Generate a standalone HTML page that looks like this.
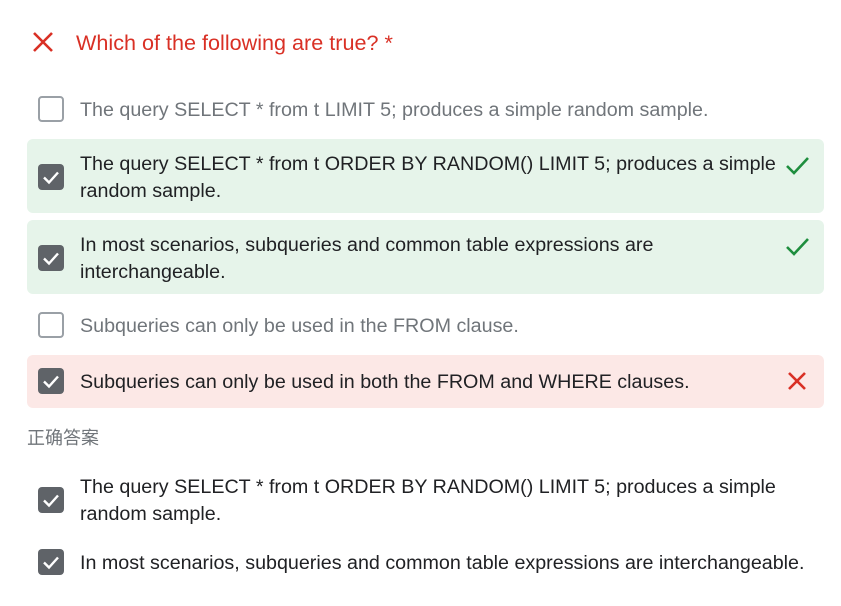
<!DOCTYPE html>
<html><head><meta charset="utf-8"><style>
body{margin:0;width:841px;height:606px;background:#fff;position:relative;overflow:hidden;font-family:"Liberation Sans","Noto Sans CJK SC",sans-serif;}
.a{position:absolute;white-space:nowrap;}
.t{position:absolute;left:80px;font-size:19.7px;line-height:27px;color:#202124;white-space:nowrap;}
.g{color:#70757a;}
.p{position:absolute;left:27px;width:797px;border-radius:6px;}
.cb{position:absolute;left:38px;width:26px;height:26px;box-sizing:border-box;border-radius:4px;}
.un{border:2.5px solid #9aa0a6;background:#fff;}
.ch{background:#5f6368;}
</style></head><body>
<svg class="a" style="left:32px;top:31px" width="22" height="22" viewBox="0 0 22 22"><path d="M2 2L20 20M20 2L2 20" stroke="#d93025" stroke-width="2.6"/></svg>
<div class="a" style="left:76px;top:30px;font-size:21.6px;color:#d93025;line-height:26px">Which of the following are true? *</div>

<div class="cb un" style="top:96px"></div>
<div class="t g" style="top:97px">The query SELECT * from t LIMIT 5; produces a simple random sample.</div>

<div class="p" style="top:139px;height:74px;background:#e6f4ea"></div>
<div class="cb ch" style="top:164px"><svg width="26" height="26"><path d="M6 13.5l5 5 9-10" stroke="#fff" stroke-width="2.4" fill="none"/></svg></div>
<div class="t" style="top:151px">The query SELECT * from t ORDER BY RANDOM() LIMIT 5; produces a simple<br>random sample.</div>
<svg class="a" style="left:785px;top:156px" width="25" height="20"><path d="M2 10l7 7L23 2" stroke="#1e8e3e" stroke-width="2.6" fill="none"/></svg>

<div class="p" style="top:220px;height:74px;background:#e6f4ea"></div>
<div class="cb ch" style="top:245px"><svg width="26" height="26"><path d="M6 13.5l5 5 9-10" stroke="#fff" stroke-width="2.4" fill="none"/></svg></div>
<div class="t" style="top:232px">In most scenarios, subqueries and common table expressions are<br>interchangeable.</div>
<svg class="a" style="left:785px;top:237px" width="25" height="20"><path d="M2 10l7 7L23 2" stroke="#1e8e3e" stroke-width="2.6" fill="none"/></svg>

<div class="cb un" style="top:312px"></div>
<div class="t g" style="top:313px">Subqueries can only be used in the FROM clause.</div>

<div class="p" style="top:355px;height:53px;background:#fce8e6"></div>
<div class="cb ch" style="top:368px"><svg width="26" height="26"><path d="M6 13.5l5 5 9-10" stroke="#fff" stroke-width="2.4" fill="none"/></svg></div>
<div class="t" style="top:369px">Subqueries can only be used in both the FROM and WHERE clauses.</div>
<svg class="a" style="left:787px;top:371px" width="20" height="20"><path d="M2 2L18 18M18 2L2 18" stroke="#d93025" stroke-width="2.6"/></svg>

<div class="a" style="left:27px;top:427px;font-size:18px;color:#70757a;line-height:22px">正确答案</div>

<div class="cb ch" style="top:487px"><svg width="26" height="26"><path d="M6 13.5l5 5 9-10" stroke="#fff" stroke-width="2.4" fill="none"/></svg></div>
<div class="t" style="top:474px">The query SELECT * from t ORDER BY RANDOM() LIMIT 5; produces a simple<br>random sample.</div>

<div class="cb ch" style="top:549px"><svg width="26" height="26"><path d="M6 13.5l5 5 9-10" stroke="#fff" stroke-width="2.4" fill="none"/></svg></div>
<div class="t" style="top:550px">In most scenarios, subqueries and common table expressions are interchangeable.</div>
</body></html>
